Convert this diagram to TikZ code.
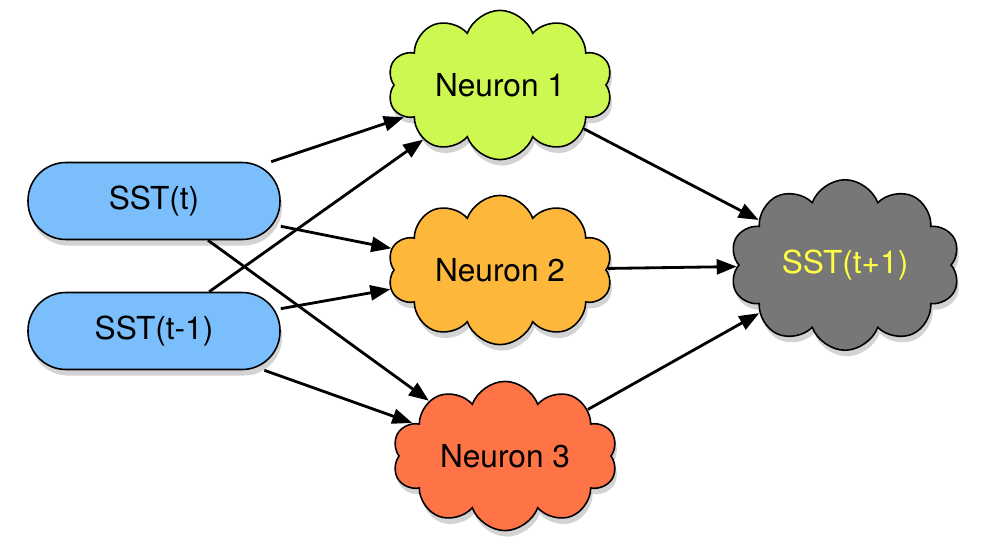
\documentclass[tikz,border=0pt]{standalone}
\usepackage{fontspec}
\setmainfont{TeX Gyre Heros}
\usetikzlibrary{positioning, arrows.meta, shadows, shapes.symbols, calc}
\definecolor{myblue}{HTML}{7ABEFB}
\definecolor{mylime}{HTML}{CDF852}
\definecolor{myorange}{HTML}{FDB83C}
\definecolor{myred}{HTML}{FF7446}
\definecolor{mygray}{HTML}{777777}
\definecolor{myyellow}{HTML}{FFFF44}

\begin{document}
\begin{tikzpicture}[
    font=\fontsize{18}{20}\selectfont,
    myshadow/.style={drop shadow={opacity=0.35, shadow xshift=0.04cm, shadow yshift=-0.12cm}},
    input/.style={rectangle, draw, line width=0.9pt, fill=myblue, rounded corners=0.76cm, minimum width=5.04cm, minimum height=1.54cm, myshadow},
    neuron/.style={cloud, draw, line width=0.9pt, cloud puffs=10, cloud puff arc=140, aspect=1.8, minimum width=4.5cm, minimum height=2.45cm, myshadow},
    link/.style={-{Triangle[length=4mm, width=3mm]}, line width=1.6pt},
]
\useasboundingbox (0,0) rectangle (19.72,-10.88);

\node [input] (sstt) at (3.08,-4.02) {SST(t)};
\node [input] (ssttm) at (3.08,-6.62) {SST(t-1)};

\node [neuron, fill=mylime] (n1) at (10.0,-1.7) {Neuron 1};
\node [neuron, fill=myorange] (n2) at (10.0,-5.4) {Neuron 2};
\node [neuron, fill=myred] (n3) at (10.1,-9.12) {Neuron 3};

\node [neuron, fill=mygray, text=myyellow, aspect=1.45, minimum width=4.6cm, minimum height=3.3cm] (out) at (16.9,-5.3) {SST(t+1)};

\draw [link] (sstt) -- (n1);
\draw [link] (sstt) -- (n2);
\draw [link] (sstt) -- (n3);
\draw [link] (ssttm) -- (n1);
\draw [link] (ssttm) -- (n2);
\draw [link] (ssttm) -- (n3);
\draw [link] (n1) -- (out);
\draw [link] (n2) -- (out);
\draw [link] (n3) -- (out);
\end{tikzpicture}
\end{document}
